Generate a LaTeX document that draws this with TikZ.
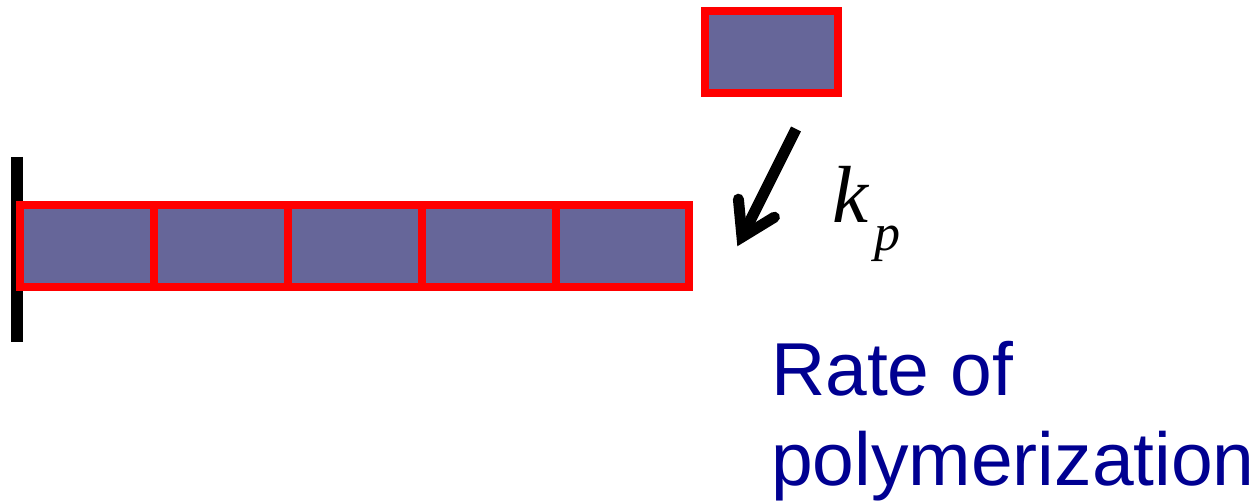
\documentclass[tikz,border=0pt]{standalone}
\usepackage{fontspec}
\setmainfont{Liberation Sans}
\newfontfamily\tnr{Liberation Serif}
\usetikzlibrary{calc}
\definecolor{monomer}{RGB}{102,102,153}
\definecolor{rateblue}{RGB}{0,0,145}
\tikzset{
  unitbox/.style={draw=red, fill=monomer, line width=8pt, rectangle,
    minimum width=134pt, minimum height=82pt, inner sep=0pt, outer sep=0pt},
  wallline/.style={line width=12pt, black},
  arrowline/.style={line width=11pt, black, line cap=round, line join=miter},
  ratetext/.style={text=rateblue, font=\fontsize{75}{90}\selectfont, align=left, inner sep=0pt, anchor=base west}
}
\begin{document}
\begin{tikzpicture}[x=1pt,y=1pt]
\useasboundingbox (0,0) rectangle (1258,502);
% wall
\coordinate (wtop) at (17,345);
\coordinate (wbot) at (17,160);
\draw[wallline] (wtop) -- (wbot);
% chain
\node[unitbox] (b1) at (87,255.5) {};
\node[unitbox] (b2) at (221,255.5) {};
\node[unitbox] (b3) at (355,255.5) {};
\node[unitbox] (b4) at (489,255.5) {};
\node[unitbox, minimum width=133pt] (b5) at (622.5,255.5) {};
% free monomer
\node[unitbox, minimum width=133pt] (m) at (771.5,450) {};
% arrow
\coordinate (atail) at (796,373);
\coordinate (atip) at (742,265);
\draw[arrowline, line cap=butt] (atail) -- ($(atip)!4pt!(atail)$);
\draw[arrowline] ($(atip)!38pt!32:(atail)$) -- (atip) -- ($(atip)!38pt!-32:(atail)$);
% rate constant
\node[anchor=base west, inner sep=0pt] (kp) at (832,279)
  {\tnr\itshape\fontsize{81}{81}\selectfont k\kern6pt\raisebox{-28pt}{\fontsize{52}{52}\selectfont p}};
% label
\node[ratetext] (rate) at (771,16) {Rate of\\polymerization};
\end{tikzpicture}
\end{document}
